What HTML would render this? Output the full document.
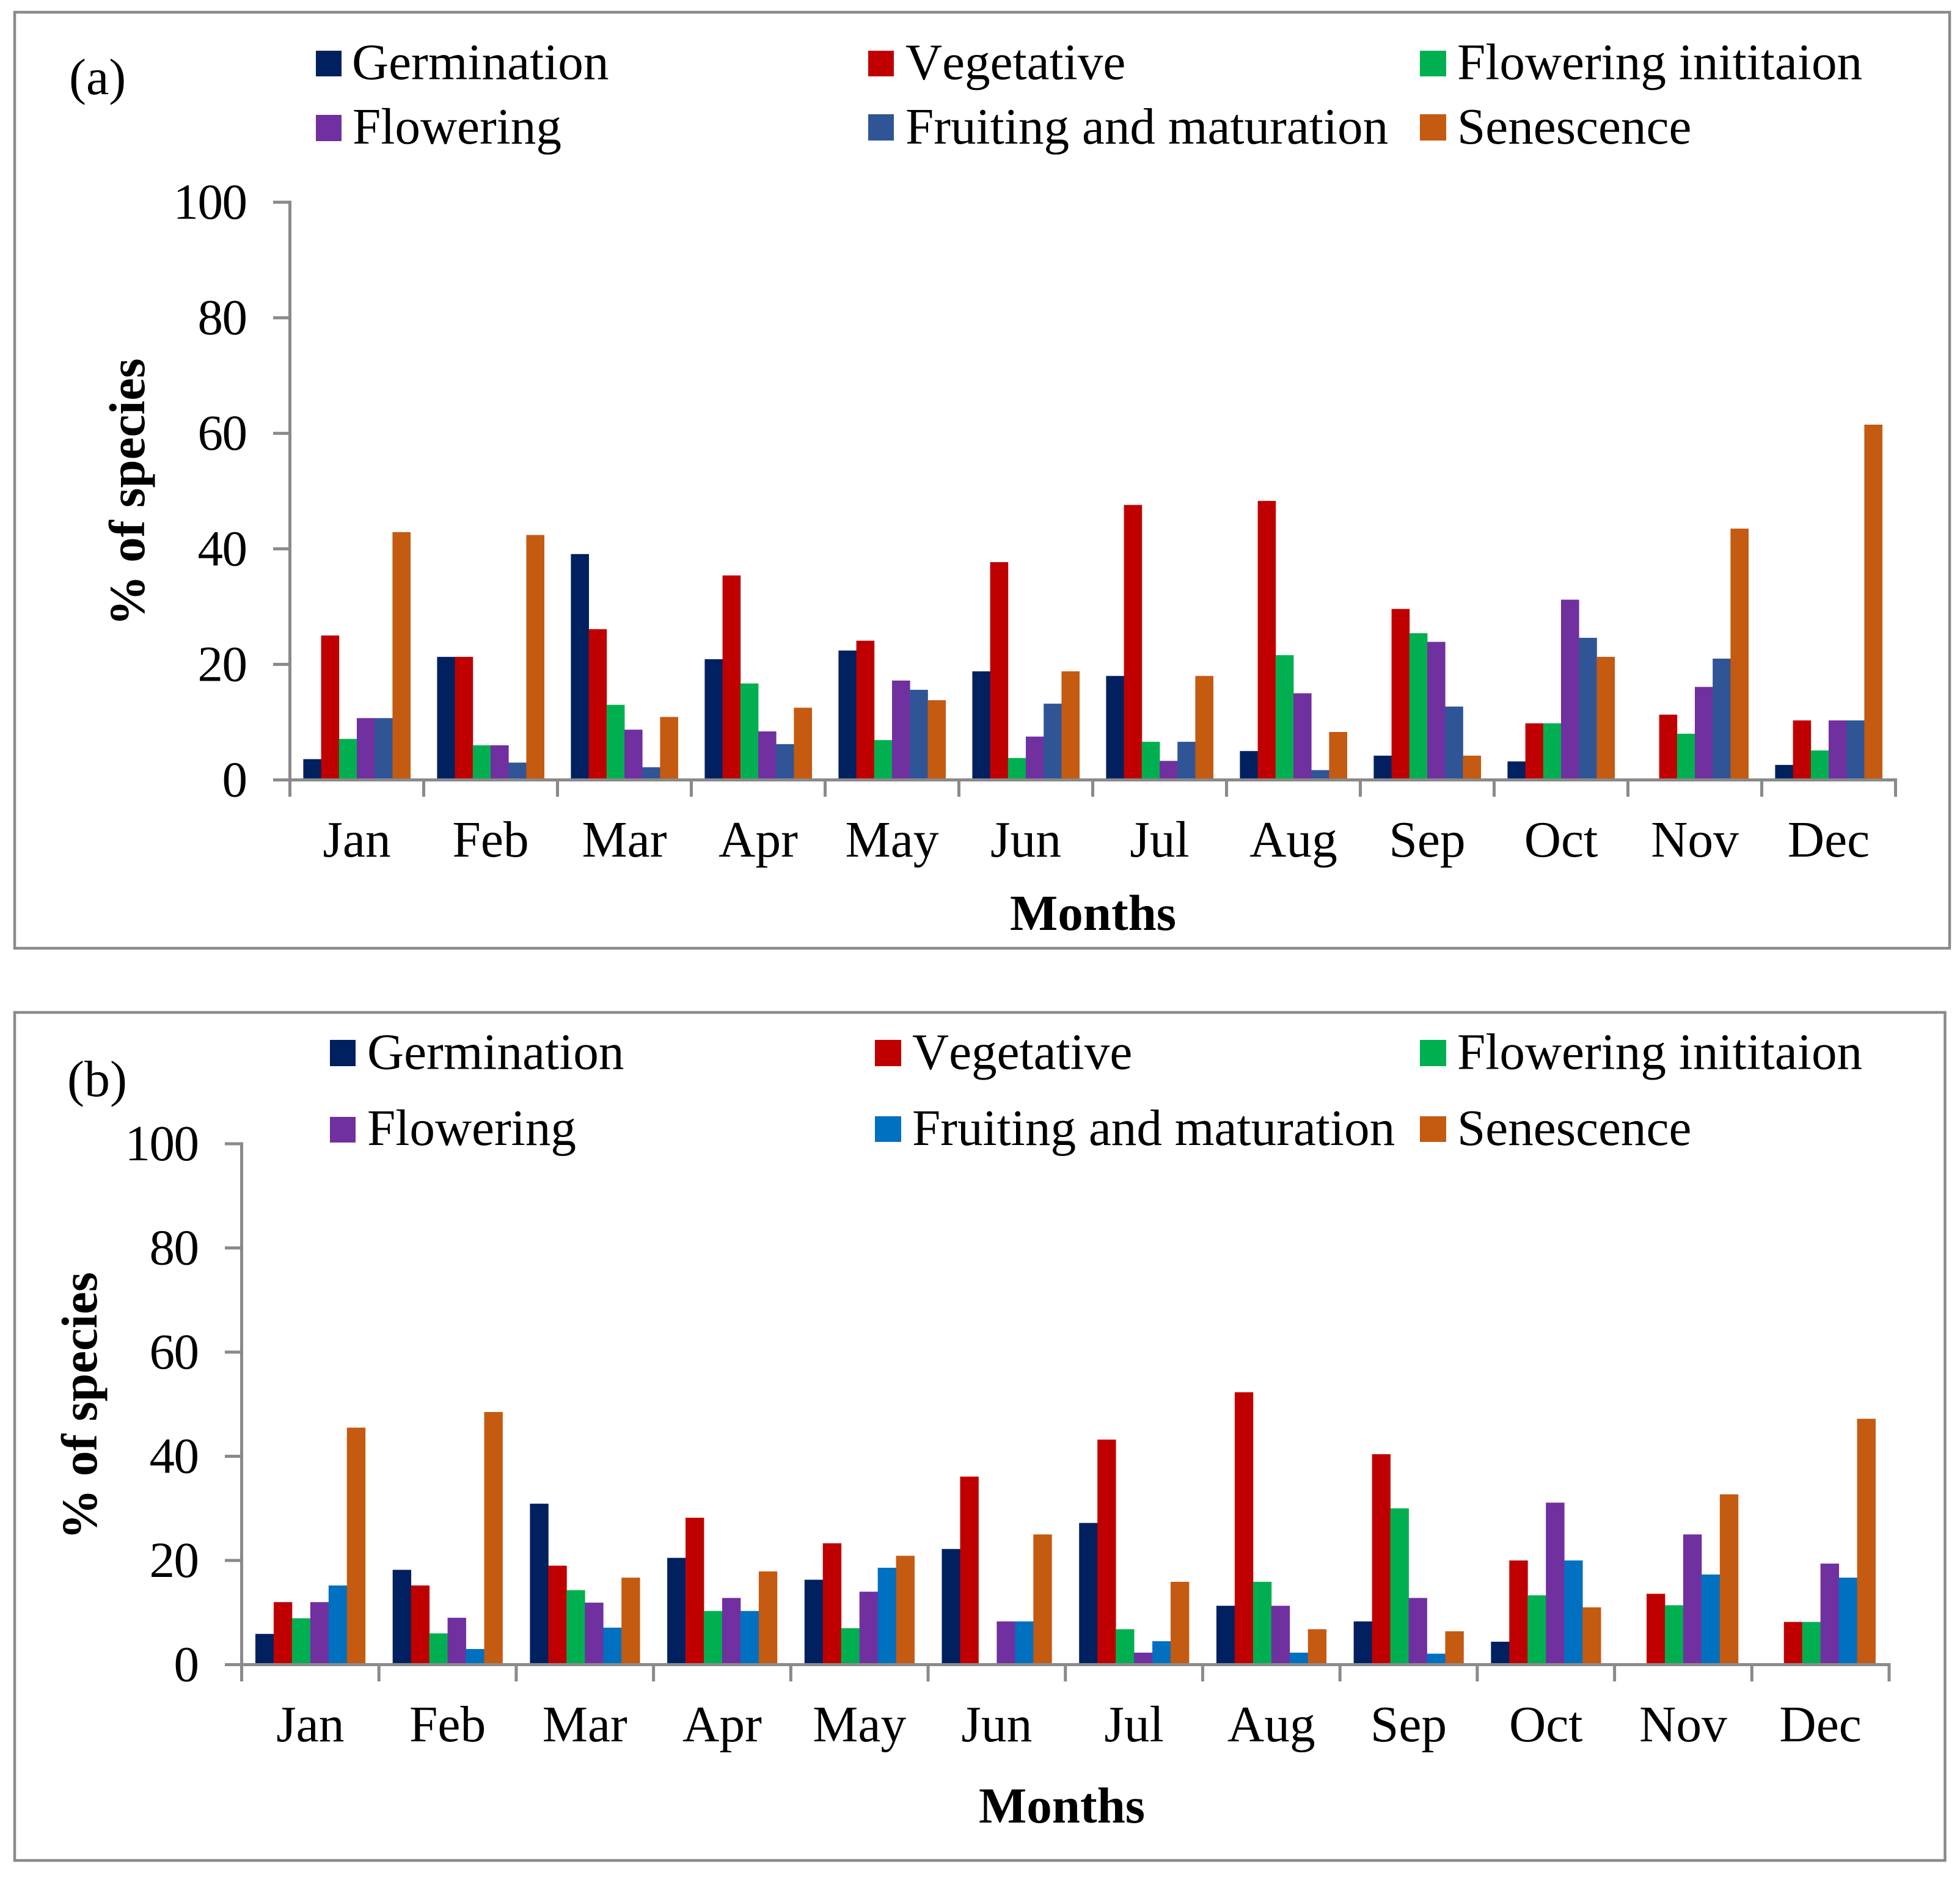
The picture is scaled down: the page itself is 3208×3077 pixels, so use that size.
<!DOCTYPE html>
<html lang="en">
<head>
<meta charset="utf-8">
<title>Phenophases by month</title>
<style>
html,body{margin:0;padding:0;background:#fff;width:3208px;height:3077px;overflow:hidden}
svg{display:block;font-family:"Liberation Serif",serif;fill:#000;font-kerning:none}
.lg{font-size:83.2px}
.pl{font-size:84px}
.tk{font-size:83.5px}
.ty{font-size:83px;letter-spacing:-1.5px}
.bt{font-size:83px;font-weight:bold}
</style>
</head>
<body>
<svg id="chart" xmlns="http://www.w3.org/2000/svg" width="3208" height="3077" viewBox="0 0 3208 3077">
<rect x="0" y="0" width="3208" height="3077" fill="#fff"/>

<g id="panelA">
<rect x="24" y="20" width="3167" height="1532" fill="none" stroke="#8a8a8a" stroke-width="4.5"/>
<text class="pl" x="113" y="154">(a)</text>
<g>
<g><rect x="517" y="83" width="42" height="42" fill="#002060"/><text class="lg" x="576" y="129.5">Germination</text></g>
<g><rect x="1421" y="83" width="42" height="42" fill="#C00000"/><text class="lg" x="1482" y="129.5">Vegetative</text></g>
<g><rect x="2324" y="83" width="43" height="42" fill="#00B050"/><text class="lg" x="2385" y="129.5">Flowering inititaion</text></g>
<g><rect x="517" y="188" width="42" height="43" fill="#7030A0"/><text class="lg" x="577" y="235">Flowering</text></g>
<g><rect x="1421" y="187" width="42" height="43" fill="#2F5597"/><text class="lg" x="1482" y="235">Fruiting and maturation</text></g>
<g><rect x="2324" y="187" width="43" height="43" fill="#C55A11"/><text class="lg" x="2385" y="235">Senescence</text></g>
</g>
<text class="bt" transform="translate(236 805.500) rotate(-90)" text-anchor="middle">% of species</text>
<text class="bt" x="1789" y="1522" text-anchor="middle">Months</text>
</g>

<g id="panelB">
<rect x="24" y="1657" width="3159.500" height="1388" fill="none" stroke="#8a8a8a" stroke-width="4.5"/>
<text class="pl" x="110" y="1794">(b)</text>
<g>
<g><rect x="540" y="1702" width="42" height="43" fill="#002060"/><text class="lg" x="601" y="1749.5">Germination</text></g>
<g><rect x="1432" y="1702" width="43" height="43" fill="#C00000"/><text class="lg" x="1493" y="1749.5">Vegetative</text></g>
<g><rect x="2324" y="1702" width="43" height="43" fill="#00B050"/><text class="lg" x="2385" y="1749.5">Flowering inititaion</text></g>
<g><rect x="540" y="1828" width="42" height="42" fill="#7030A0"/><text class="lg" x="601" y="1874">Flowering</text></g>
<g><rect x="1432" y="1827" width="43" height="42" fill="#0070C0"/><text class="lg" x="1493" y="1874">Fruiting and maturation</text></g>
<g><rect x="2324" y="1827" width="43" height="42" fill="#C55A11"/><text class="lg" x="2385" y="1874">Senescence</text></g>
</g>
<text class="bt" transform="translate(158 2301) rotate(-90)" text-anchor="middle">% of species</text>
<text class="bt" x="1738" y="2983" text-anchor="middle">Months</text>
</g>
</svg>

<script>
const months = ["Jan","Feb","Mar","Apr","May","Jun","Jul","Aug","Sep","Oct","Nov","Dec"];
const yTickLabels = [0,20,40,60,80,100];
const seriesNames = ["germination","vegetative","flowering-initiation","flowering","fruiting","senescence"];

const aGermination = [3.6,21.3,39.1,20.9,22.4,18.8,18,5,4.2,3.2,0,2.6];
const aVegetative  = [25,21.3,26.1,35.4,24.1,37.7,47.6,48.3,29.6,9.8,11.3,10.3];
const aInitiation  = [7.1,6,13,16.7,6.9,3.8,6.6,21.6,25.4,9.8,8,5.1];
const aFlowering   = [10.7,6,8.7,8.4,17.2,7.5,3.3,15,23.9,31.2,16.1,10.3];
const aFruiting    = [10.7,3,2.2,6.2,15.6,13.2,6.6,1.7,12.7,24.6,21,10.3];
const aSenescence  = [42.9,42.4,10.9,12.5,13.8,18.8,18,8.3,4.2,21.3,43.5,61.5];

const bGermination = [5.9,18.2,30.9,20.5,16.3,22.2,27.2,11.3,8.3,4.4,0,0];
const bVegetative  = [12,15.2,19,28.2,23.3,36.1,43.2,52.3,40.4,20,13.6,8.2];
const bInitiation  = [8.9,6,14.3,10.3,7,0,6.8,15.9,30,13.3,11.4,8.2];
const bFlowering   = [12,9,11.9,12.8,14,8.3,2.3,11.3,12.8,31.1,25,19.4];
const bFruiting    = [15.2,3,7.1,10.3,18.6,8.3,4.5,2.3,2.1,20,17.3,16.7];
const bSenescence  = [45.5,48.5,16.7,17.9,20.9,25,15.9,6.8,6.4,11,32.7,47.2];

const NS = "http://www.w3.org/2000/svg";
const axisColor = "#8a8a8a";

function drawPanel(root, prefix, cfg, series, colors) {
  const yScale = v => cfg.y0 - (v / 100) * (cfg.y0 - cfg.y100);
  const band = (cfg.x1 - cfg.x0) / months.length;
  const barW = band / 7.5;
  const xBand = i => cfg.x0 + i * band;

  series.forEach((values, s) => {
    const g = document.createElementNS(NS, "g");
    
    
    values.forEach((v, i) => {
      if (v <= 0) return;
      const r = document.createElementNS(NS, "rect");
      r.setAttribute("x", xBand(i) + barW * (0.75 + s));
      r.setAttribute("y", yScale(v));
      r.setAttribute("width", barW + 0.4);
      r.setAttribute("height", cfg.y0 - yScale(v));
      r.setAttribute("fill", colors[s]);
      
      
      g.appendChild(r);
    });
    root.appendChild(g);
  });

  const line = (x1, y1, x2, y2, name) => {
    const l = document.createElementNS(NS, "line");
    l.setAttribute("x1", x1);
    l.setAttribute("y1", y1);
    l.setAttribute("x2", x2);
    l.setAttribute("y2", y2);
    l.setAttribute("stroke", axisColor);
    l.setAttribute("stroke-width", "5");
    l.setAttribute("stroke-linecap", "square");
    
    
    root.appendChild(l);
  };
  const label = (x, y, str, anchor, cls, name) => {
    const t = document.createElementNS(NS, "text");
    t.setAttribute("x", x);
    t.setAttribute("y", y);
    t.setAttribute("text-anchor", anchor);
    t.setAttribute("class", cls);
    
    
    t.textContent = str;
    root.appendChild(t);
  };

  line(cfg.x0, cfg.y100, cfg.x0, cfg.y0, prefix + "-y-axis");
  line(cfg.x0, cfg.y0, cfg.x1, cfg.y0, prefix + "-x-axis");
  yTickLabels.forEach(v => {
    line(cfg.x0 - 25, yScale(v), cfg.x0, yScale(v), prefix + "-y-tick");
    label(cfg.x0 - 71, yScale(v) + 27, String(v), "end", "ty", prefix + "-y-tick-label");
  });
  months.forEach((m, i) => {
    line(xBand(i), cfg.y0, xBand(i), cfg.y0 + 25, prefix + "-x-tick");
    label(xBand(i) + band / 2, cfg.xLabelY, m, "middle", "tk", prefix + "-x-tick-label");
  });
  line(cfg.x1, cfg.y0, cfg.x1, cfg.y0 + 25, prefix + "-x-tick");
}

drawPanel(document.getElementById("panelA"), "panel-a",
  {x0: 474.5, x1: 3102.5, y0: 1276.5, y100: 331, xLabelY: 1402},
  [aGermination, aVegetative, aInitiation, aFlowering, aFruiting, aSenescence],
  ["#002060","#C00000","#00B050","#7030A0","#2F5597","#C55A11"]);

drawPanel(document.getElementById("panelB"), "panel-b",
  {x0: 395.5, x1: 3092, y0: 2724.5, y100: 1872, xLabelY: 2850},
  [bGermination, bVegetative, bInitiation, bFlowering, bFruiting, bSenescence],
  ["#002060","#C00000","#00B050","#7030A0","#0070C0","#C55A11"]);
</script>
</body>
</html>
